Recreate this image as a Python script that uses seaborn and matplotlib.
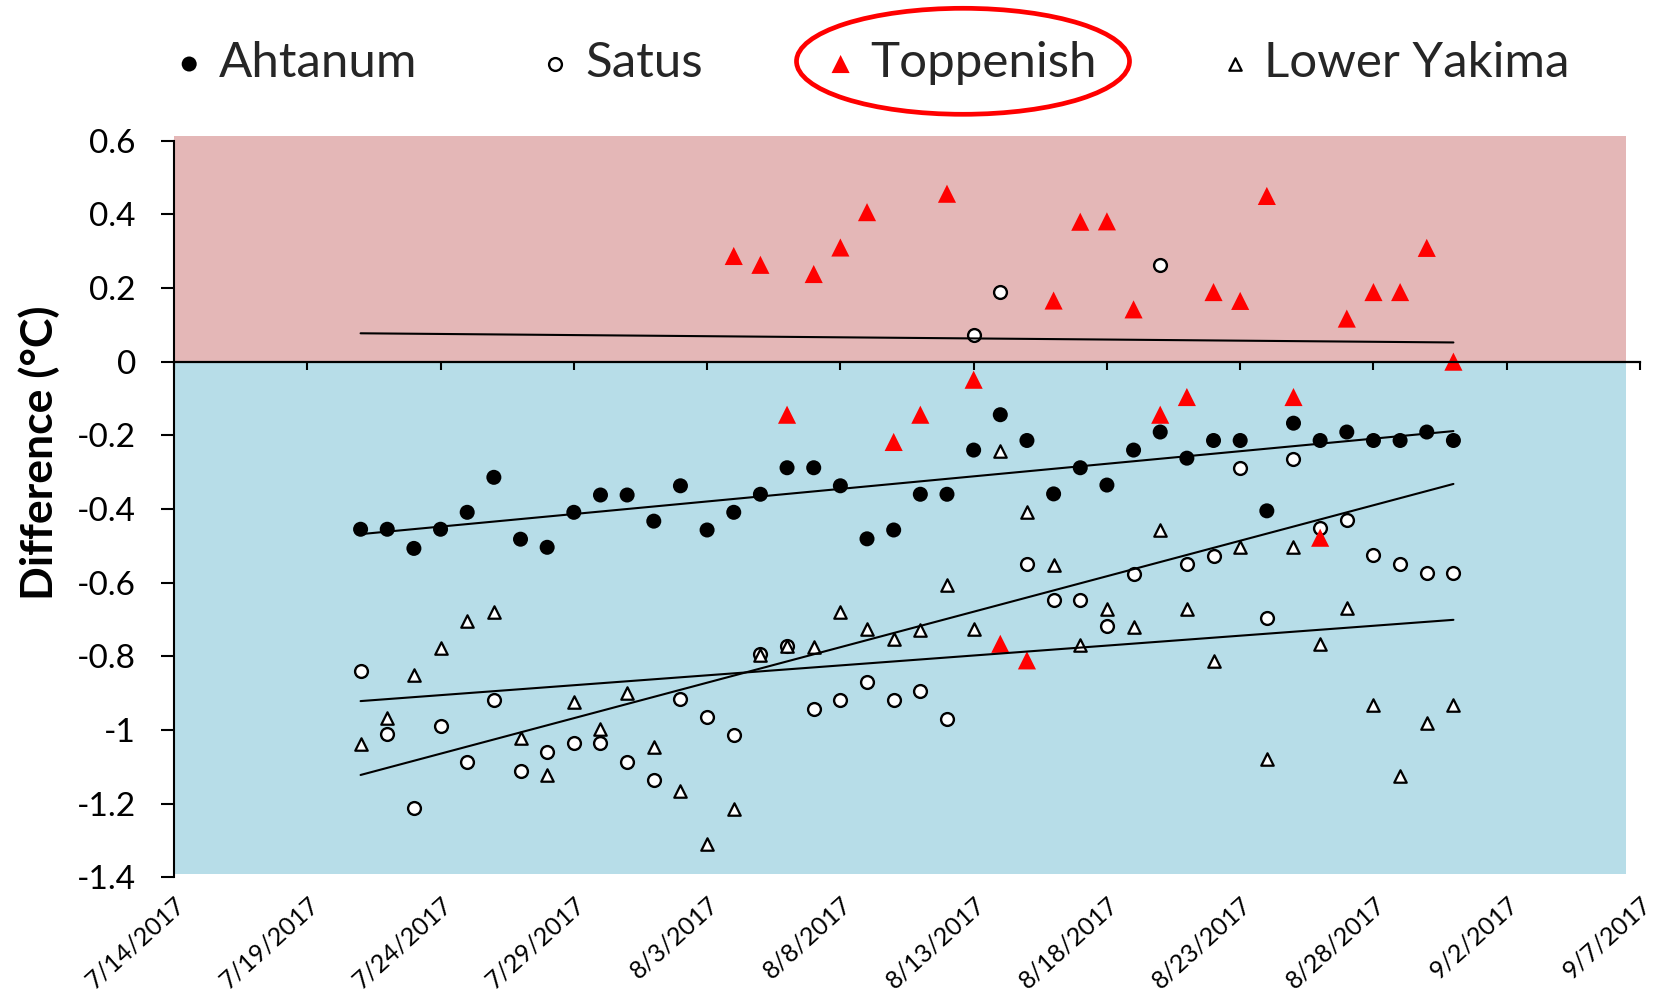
import numpy as np
import pandas as pd
import matplotlib
matplotlib.use("Agg")
import matplotlib.pyplot as plt
import matplotlib.dates as mdates
from matplotlib.patches import Ellipse
from matplotlib.ticker import FuncFormatter
import seaborn as sns

# Daily temperature differences (°C), 7/21/2017 - 8/31/2017
dates = pd.date_range("2017-07-21", "2017-08-31", freq="D")

ahtanum = [-0.455, -0.455, -0.507, -0.455, -0.409, -0.314, -0.482, -0.504, -0.409, -0.362,
           -0.362, -0.433, -0.337, -0.457, -0.409, -0.360, -0.288, -0.288, -0.337, -0.481,
           -0.457, -0.360, -0.360, -0.240, -0.144, -0.214, -0.359, -0.288, -0.335, -0.240,
           -0.191, -0.262, -0.214, -0.214, -0.405, -0.167, -0.214, -0.191, -0.214, -0.214,
           -0.191, -0.214]

satus = [-0.839, -1.012, -1.212, -0.988, -1.086, -0.918, -1.111, -1.061, -1.036, -1.036,
         -1.086, -1.135, -0.917, -0.965, -1.014, -0.795, -0.771, -0.943, -0.918, -0.870,
         -0.918, -0.894, -0.969, 0.072, 0.190, -0.550, -0.646, -0.646, -0.719, -0.576,
         0.262, -0.550, -0.527, -0.288, -0.695, -0.263, -0.452, -0.430, -0.525, -0.550,
         -0.575, -0.575]

# Toppenish record begins on 8/4/2017
toppenish = [np.nan] * 14 + [
    0.287, 0.263, -0.144, 0.238, 0.310, 0.406, -0.218, -0.144, 0.456, -0.049,
    -0.766, -0.811, 0.166, 0.380, 0.381, 0.142, -0.144, -0.096, 0.189, 0.165,
    0.450, -0.096, -0.478, 0.117, 0.189, 0.189, 0.309, 0.000]

lower_yakima = [-1.038, -0.967, -0.850, -0.777, -0.704, -0.680, -1.022, -1.121, -0.924, -0.997,
                -0.900, -1.045, -1.165, -1.310, -1.214, -0.797, -0.773, -0.776, -0.679, -0.727,
                -0.752, -0.728, -0.605, -0.727, -0.242, -0.409, -0.552, -0.768, -0.672, -0.720,
                -0.457, -0.672, -0.813, -0.503, -1.078, -0.502, -0.766, -0.670, -0.932, -1.125,
                -0.981, -0.932]

tick_labels = ["7/14/2017", "7/19/2017", "7/24/2017", "7/29/2017", "8/3/2017", "8/8/2017",
               "8/13/2017", "8/18/2017", "8/23/2017", "8/28/2017", "9/2/2017", "9/7/2017"]
y_ticks = [-1.4, -1.2, -1.0, -0.8, -0.6, -0.4, -0.2, 0.0, 0.2, 0.4, 0.6]

series_names = ["Ahtanum", "Satus", "Toppenish", "Lower Yakima"]

x_num = mdates.date2num(dates)
df = pd.DataFrame({"x": x_num, "Ahtanum": ahtanum, "Satus": satus,
                   "Toppenish": toppenish, "Lower Yakima": lower_yakima})
tick_pos = mdates.date2num(pd.to_datetime(tick_labels, format="%m/%d/%Y"))

sns.set_theme(style="ticks")
plt.rcParams["font.family"] = ["Lato", "DejaVu Sans"]

fig = plt.figure(figsize=(16.58, 9.9), dpi=100)
ax = fig.add_axes([0.10495, 0.11384, 0.88419, 0.74404])
ax.set_facecolor("none")

# warm / cool bands above and below zero
pink = "#E4B7B7"
blue = "#B7DDE8"
ax.axhspan(0, 0.6136, xmin=0, xmax=0.9903, color=pink, lw=0, zorder=0, clip_on=False)
ax.axhspan(-1.392, 0, xmin=0, xmax=0.9903, color=blue, lw=0, zorder=0, clip_on=False)

styles = {
    "Ahtanum": dict(marker="o", s=117, color="black", edgecolor="none", linewidth=0),
    "Satus": dict(marker="o", s=85, color="white", edgecolor="black", linewidth=1.7),
    "Toppenish": dict(marker="^", s=170, color="red", edgecolor="none", linewidth=0),
    "Lower Yakima": dict(marker="^", s=80, color="white", edgecolor="black", linewidth=1.6),
}
for i, name in enumerate(series_names):
    sns.scatterplot(data=df, x="x", y=name, ax=ax, label=name, zorder=3 + i * 0.1,
                    **styles[name])

# linear trend for each station, drawn across the full record
x_span = np.array([x_num[0], x_num[-1]])
for name in series_names:
    vals = df[name].to_numpy()
    ok = np.isfinite(vals)
    coef = np.polyfit(x_num[ok], vals[ok], 1)
    sns.lineplot(x=x_span, y=np.polyval(coef, x_span), ax=ax, color="black",
                 linewidth=1.5, legend=False, zorder=5)

ax.set_xlim(tick_pos[0], tick_pos[-1])
ax.set_ylim(-1.4, 0.6)

ax.spines["top"].set_visible(False)
ax.spines["right"].set_visible(False)
ax.spines["bottom"].set_position(("data", 0))
ax.spines["bottom"].set_linewidth(1.6)
ax.spines["left"].set_linewidth(1.5)
ax.spines["bottom"].set_color("black")
ax.spines["left"].set_color("black")
ax.spines["bottom"].set_zorder(6)

ax.set_xticks(tick_pos)
ax.tick_params(axis="x", direction="out", length=6, width=1.5, color="black",
               labelbottom=False)
ax.set_yticks(y_ticks)
ax.yaxis.set_major_formatter(FuncFormatter(lambda v, p: "0" if abs(v) < 1e-9 else f"{round(v, 1):g}"))
ax.tick_params(axis="y", direction="out", length=9.4, width=1.5, color="black",
               pad=18, labelsize=24, labelcolor="black")
ax.set_xlabel("")
ax.set_ylabel("")

# date labels along the bottom of the plot area
sec = ax.secondary_xaxis("bottom")
sec.spines["bottom"].set_visible(False)
sec.set_xticks(tick_pos)
sec.set_xticklabels(tick_labels, rotation=42, ha="right", va="top",
                    rotation_mode="anchor", fontsize=18, color="black")
sec.tick_params(axis="x", length=0, pad=11)

fig.text(39 / 1658, 1 - 452.6 / 990, "Difference (°C)", rotation=90, fontsize=32,
         fontweight="bold", ha="center", va="center", color="black")

handles, labels = ax.get_legend_handles_labels()
ax.legend(handles, labels, loc="center", bbox_to_anchor=(0.526, 0.9364),
          bbox_transform=fig.transFigure, ncol=4, frameon=False, fontsize=35.5,
          handlelength=0.6, handletextpad=0.3, columnspacing=2.5,
          borderpad=0, borderaxespad=0)

fig.add_artist(Ellipse((963 / 1658, 1 - 61.3 / 990), 333 / 1658, 106 / 990,
                       transform=fig.transFigure, fill=False, edgecolor="red", lw=3.4))

fig.savefig("out.png", dpi=100)
